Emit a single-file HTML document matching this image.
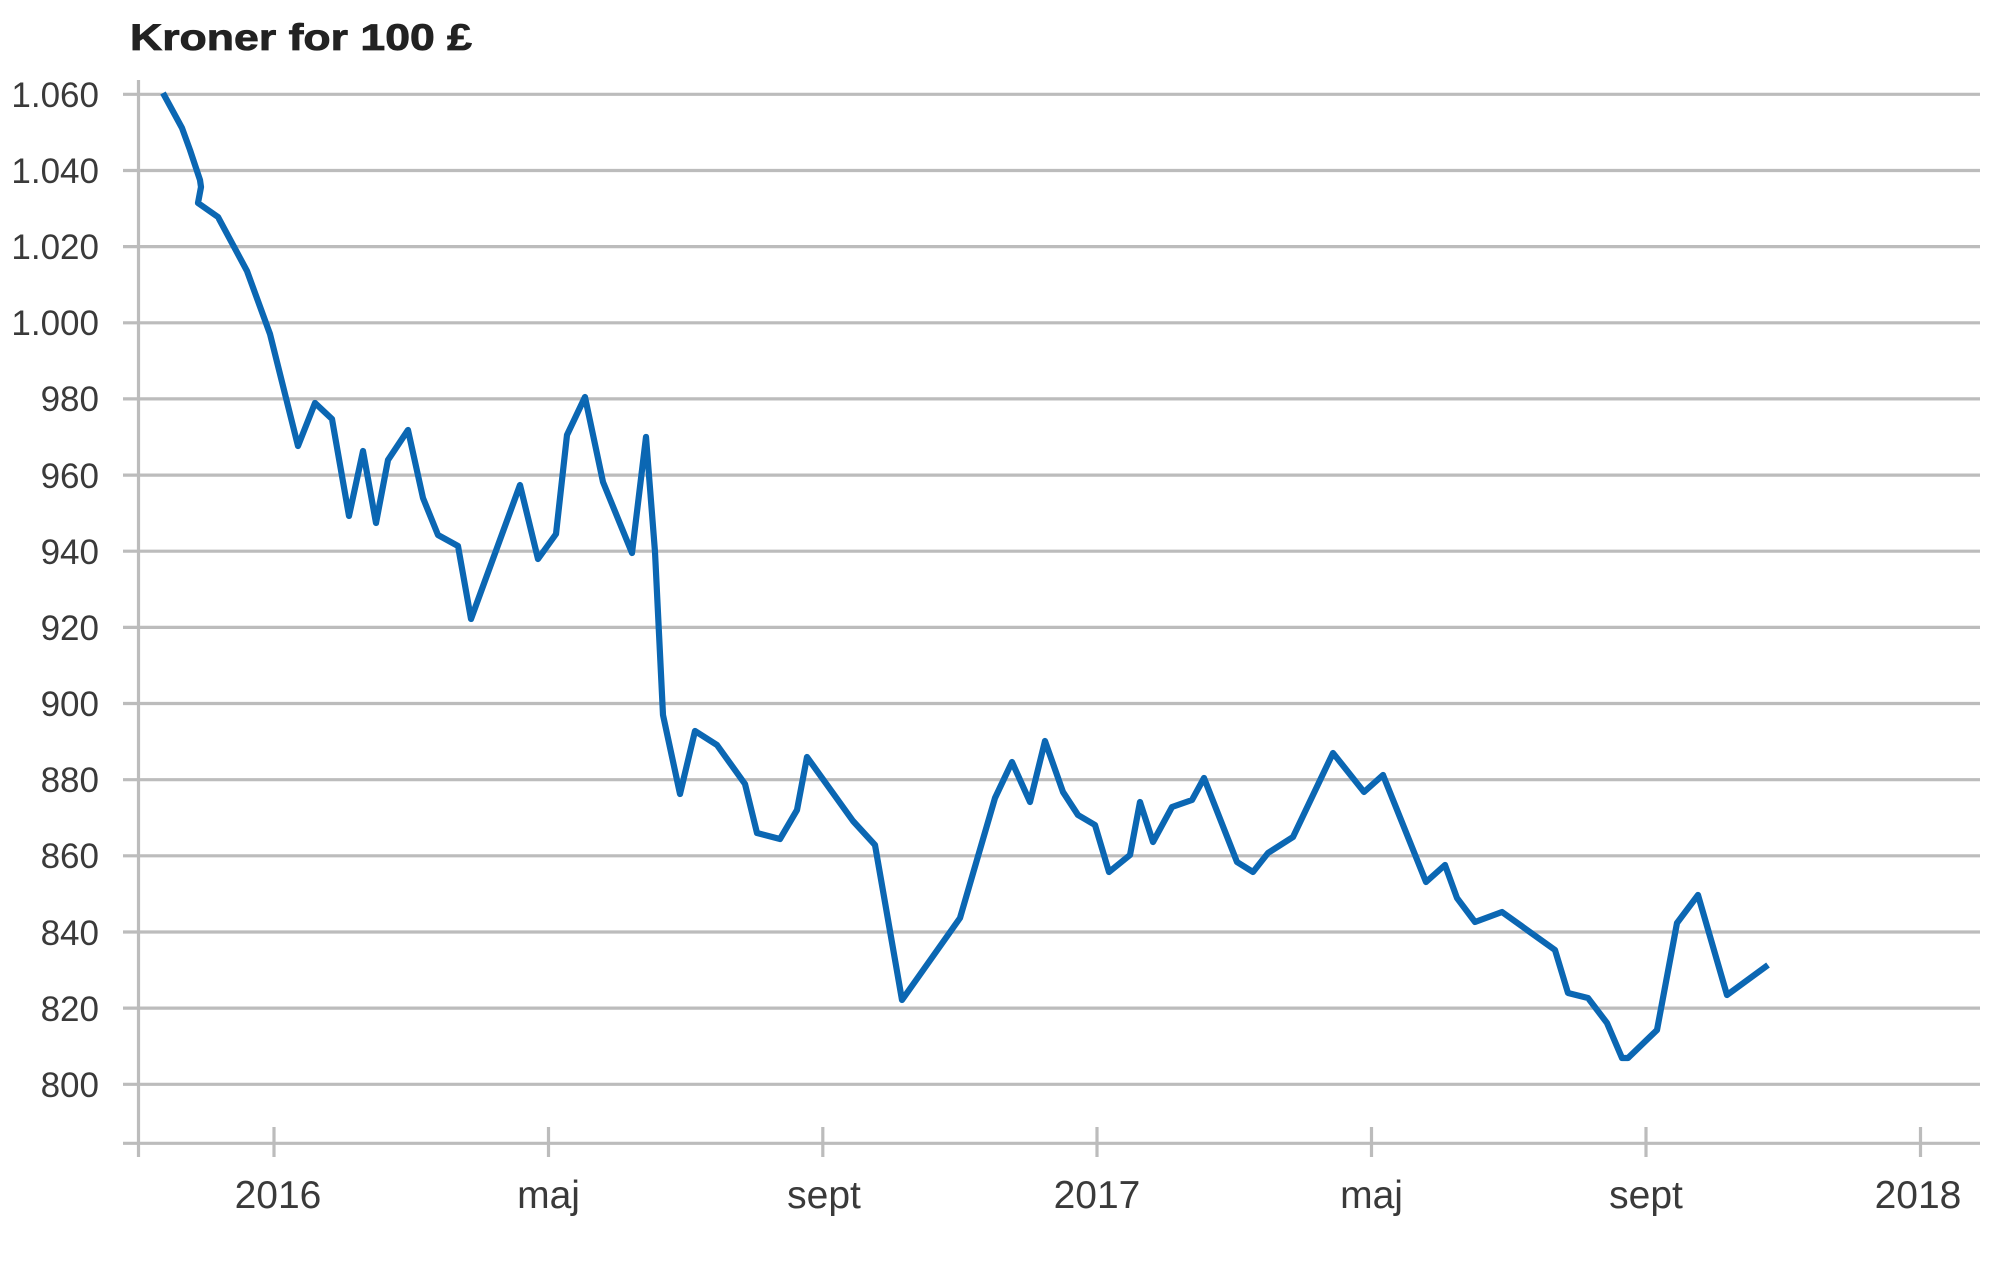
<!DOCTYPE html>
<html>
<head>
<meta charset="utf-8">
<style>
html,body{margin:0;padding:0;background:#fff;}
svg{display:block;}
</style>
</head>
<body>
<svg width="2000" height="1265" viewBox="0 0 2000 1265" xmlns="http://www.w3.org/2000/svg">
<rect width="2000" height="1265" fill="#fff"/>
<text x="130" y="50" font-family="Liberation Sans, sans-serif" font-weight="bold" font-size="37" fill="#222" stroke="#222" stroke-width="0.8" textLength="342" lengthAdjust="spacingAndGlyphs">Kroner for 100 £</text>
<g stroke="#bcbcbc" stroke-width="3.2" fill="none">
<line x1="123" y1="94.3" x2="1980" y2="94.3"/>
<line x1="123" y1="170.5" x2="1980" y2="170.5"/>
<line x1="123" y1="246.6" x2="1980" y2="246.6"/>
<line x1="123" y1="322.8" x2="1980" y2="322.8"/>
<line x1="123" y1="398.9" x2="1980" y2="398.9"/>
<line x1="123" y1="475.1" x2="1980" y2="475.1"/>
<line x1="123" y1="551.2" x2="1980" y2="551.2"/>
<line x1="123" y1="627.4" x2="1980" y2="627.4"/>
<line x1="123" y1="703.5" x2="1980" y2="703.5"/>
<line x1="123" y1="779.7" x2="1980" y2="779.7"/>
<line x1="123" y1="855.8" x2="1980" y2="855.8"/>
<line x1="123" y1="932.0" x2="1980" y2="932.0"/>
<line x1="123" y1="1008.1" x2="1980" y2="1008.1"/>
<line x1="123" y1="1084.3" x2="1980" y2="1084.3"/>
<line x1="123" y1="1143.3" x2="1980" y2="1143.3"/>
<line x1="138.5" y1="80" x2="138.5" y2="1157"/>
<line x1="274" y1="1127" x2="274" y2="1157"/>
<line x1="548.5" y1="1127" x2="548.5" y2="1157"/>
<line x1="822.8" y1="1127" x2="822.8" y2="1157"/>
<line x1="1097" y1="1127" x2="1097" y2="1157"/>
<line x1="1371.5" y1="1127" x2="1371.5" y2="1157"/>
<line x1="1646" y1="1127" x2="1646" y2="1157"/>
<line x1="1920.5" y1="1127" x2="1920.5" y2="1157"/>
</g>
<g font-family="Liberation Sans, sans-serif" font-size="35" fill="#3a3a3a" text-anchor="end">
<text x="99" y="107">1.060</text>
<text x="99" y="183">1.040</text>
<text x="99" y="259">1.020</text>
<text x="99" y="335">1.000</text>
<text x="99" y="411">980</text>
<text x="99" y="488">960</text>
<text x="99" y="564">940</text>
<text x="99" y="640">920</text>
<text x="99" y="716">900</text>
<text x="99" y="792">880</text>
<text x="99" y="868">860</text>
<text x="99" y="945">840</text>
<text x="99" y="1021">820</text>
<text x="99" y="1097">800</text>
</g>
<g font-family="Liberation Sans, sans-serif" font-size="39" fill="#3a3a3a" text-anchor="middle">
<text x="278" y="1208">2016</text>
<text x="548.5" y="1208">maj</text>
<text x="824" y="1208">sept</text>
<text x="1097" y="1208">2017</text>
<text x="1371.5" y="1208">maj</text>
<text x="1646" y="1208">sept</text>
<text x="1918" y="1208">2018</text>
</g>
<polyline fill="none" stroke="#0b67b3" stroke-width="6.2" stroke-linejoin="round" stroke-linecap="butt" points="
163,93 182,128 190,150 200,180 201,187 198,203 218,217 247,271 270,334 298,446 315,403 332,419 349,516 363,451 376,523 388,460 408,430 423,498 438,535 458,546 471,619 520,485 538,559 556,534 567,435 585,397 603,482 632,553 646,437 655,552 663,715 680,794 695,731 717,745 745,784 757,833 780,839 797,810 807,757 853,821 875,845 902,1000 960,918 995,798 1012,762 1030,802 1045,741 1063,792 1078,815 1095,825 1109,872 1130,855 1140,802 1153,842 1172,807 1192,800 1204,778 1237,862 1253,872 1268,853 1293,837 1333,753 1364,792 1383,775 1426,882 1445,865 1457,898 1475,922 1502,912 1555,950 1568,993 1588,998 1607,1023 1622,1058 1628,1058 1657,1030 1677,923 1698,895 1727,995 1768,965"/>
</svg>
</body>
</html>
